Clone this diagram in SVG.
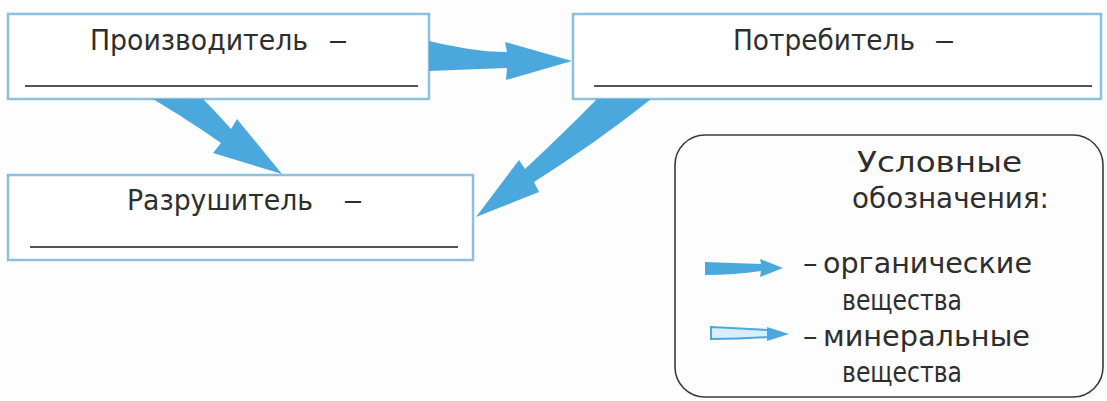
<svg xmlns="http://www.w3.org/2000/svg" width="1107" height="401" viewBox="0 0 1107 401">
<style>
.box{fill:#ffffff;stroke:#8cc0dc;stroke-width:2.5}
.ul{stroke:#555555;stroke-width:2}
.t{font-family:"DejaVu Sans","Liberation Sans",sans-serif;font-size:29px;fill:#2e2e2e}
.arr{fill:#4ba8dc}
.leg{fill:none;stroke:#3a3a3a;stroke-width:1.6}
</style>
<rect width="1107" height="401" fill="#fdfdfd"/>
<g id="node-producer">
<rect class="box" x="8" y="14" width="421" height="85"/>
<text class="t" x="90" y="50"><tspan textLength="218" lengthAdjust="spacingAndGlyphs">Производитель</tspan><tspan x="328" textLength="20" lengthAdjust="spacingAndGlyphs">–</tspan></text>
<line class="ul" x1="25" y1="86" x2="418" y2="86"/>
</g>
<g id="node-consumer">
<rect class="box" x="573" y="14" width="528" height="85"/>
<text class="t" x="733" y="50"><tspan textLength="182" lengthAdjust="spacingAndGlyphs">Потребитель</tspan><tspan x="934" textLength="21" lengthAdjust="spacingAndGlyphs">–</tspan></text>
<line class="ul" x1="594" y1="86" x2="1092" y2="86"/>
</g>
<g id="node-decomposer">
<rect class="box" x="8" y="175" width="465" height="85"/>
<text class="t" x="127" y="210"><tspan textLength="186" lengthAdjust="spacingAndGlyphs">Разрушитель</tspan><tspan x="343" textLength="20" lengthAdjust="spacingAndGlyphs">–</tspan></text>
<line class="ul" x1="30" y1="247" x2="458" y2="247"/>
</g>
<g id="legend">
<rect class="leg" x="675" y="135" width="428" height="262" rx="30" ry="30"/>
<text class="t" x="857" y="172" textLength="165" lengthAdjust="spacingAndGlyphs">Условные</text>
<text class="t" x="852" y="208" textLength="197" lengthAdjust="spacingAndGlyphs">обозначения:</text>
<path class="arr" d="M705,262 L761,264 L760,259 L783,268 L760,277 L761,271 Q735,275 705,275 Z"/>
<text class="t" x="803" y="273"><tspan>–</tspan><tspan x="823" textLength="209" lengthAdjust="spacingAndGlyphs">органические</tspan></text>
<text class="t" x="842" y="310" textLength="120" lengthAdjust="spacingAndGlyphs">вещества</text>
<path d="M711,327 L768,330 L768,337 Q740,339 711,339 Z" fill="#d9eef9" stroke="#4ba8dc" stroke-width="2"/>
<path class="arr" d="M767,327 L789,334 L767,341 Z"/>
<text class="t" x="803" y="346"><tspan>–</tspan><tspan x="823" textLength="207" lengthAdjust="spacingAndGlyphs">минеральные</tspan></text>
<text class="t" x="842" y="382" textLength="120" lengthAdjust="spacingAndGlyphs">вещества</text>
</g>
<g id="connectors">
<path class="arr" d="M429,41 C455,47 480,52 507,52 L505,42 L572,61 L506,80 L507,68 C480,69 455,70 429,71 Z"/>
<path class="arr" d="M153,99 L203,99 C214,110 223,120 231,129 L237,119 L282,174 L213,153 L221,143 C200,128 176,113 153,99 Z"/>
<path class="arr" d="M597,99 L651,99 C612,130 572,158 534,182 L539,192 L476,217 L519,160 L525,169 C550,146 574,122 597,99 Z"/>
</g>
</svg>
